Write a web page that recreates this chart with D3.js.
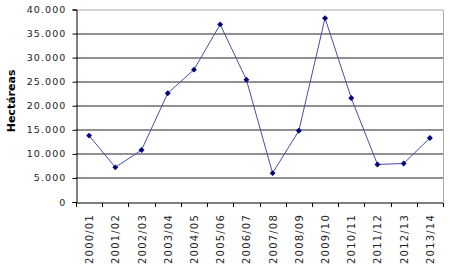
<!DOCTYPE html>
<html>
<head>
<meta charset="utf-8">
<script src="https://cdn.jsdelivr.net/npm/d3@7"></script>
<style>
  body { margin: 0; background: #fff; }
  text { font-family: "DejaVu Sans", Verdana, sans-serif; fill: #000; }
</style>
</head>
<body>
<div id="chart"></div>
<script>
(function() {
    // Data
    var seasons = ["2000/01", "2001/02", "2002/03", "2003/04", "2004/05", "2005/06", "2006/07",
                   "2007/08", "2008/09", "2009/10", "2010/11", "2011/12", "2012/13", "2013/14"];
    var hectares = [13800, 7200, 10800, 22600, 27500, 36900, 25400,
                    6000, 14800, 38200, 21600, 7800, 8000, 13300];
    var yTicks = [0, 5000, 10000, 15000, 20000, 25000, 30000, 35000, 40000];
    var yTitle = "Hectáreas";

    var W = 450, H = 269;
    var margin = { top: 9.5, left: 76, right: 7, bottom: 67 };
    var width = W - margin.left - margin.right,
        height = H - margin.top - margin.bottom;

    var svg = d3.select("#chart")
        .append("svg")
        .attr("width", W)
        .attr("height", H)
        .append("g")
        .attr("transform", "translate(" + margin.left + "," + margin.top + ")");

    var x = d3.scaleBand().domain(seasons).range([0, width]).padding(0);
    var y = d3.scaleLinear().domain([0, 40000]).range([height, 0]);

    var fmt = function(v) { return d3.format(",")(v).replace(/,/g, "."); };

    // Gridlines
    svg.selectAll(".grid")
        .data(yTicks.filter(function(d) { return d > 0; }))
        .enter().append("line")
        .attr("class", "grid")
        .attr("x1", 0).attr("x2", width)
        .attr("y1", function(d) { return Math.round(y(d)) + 0.5; })
        .attr("y2", function(d) { return Math.round(y(d)) + 0.5; })
        .attr("stroke", function(d) { return d === 40000 ? "#aaa" : "#222"; })
        .attr("stroke-width", 1);

    // Right border of plot area
    svg.append("line")
        .attr("x1", Math.round(width) + 0.5).attr("x2", Math.round(width) + 0.5)
        .attr("y1", Math.round(y(40000)) + 0.5).attr("y2", Math.round(y(0)) + 0.5)
        .attr("stroke", "#aaa");

    // Y axis
    var yAxis = d3.axisLeft(y).tickValues(yTicks).tickSize(4).tickFormat(fmt);
    var ya = svg.append("g").attr("transform", "translate(0.5,0)").call(yAxis);
    ya.select(".domain").attr("stroke", "#000");
    ya.selectAll(".tick line").attr("stroke", "#000");
    ya.selectAll(".tick text")
        .attr("x", -10)
        .style("font-size", "9.5px")
        .style("letter-spacing", "1.1px")
        .style("fill", "#222");
    ya.attr("font-family", null);

    // X axis with ticks at category boundaries
    var xa = svg.append("g").attr("transform", "translate(0," + (Math.round(height) + 0.5) + ")");
    xa.append("line")
        .attr("x1", 0).attr("x2", width)
        .attr("stroke", "#000");
    xa.selectAll(".xtick")
        .data(seasons.concat(["end"]))
        .enter().append("line")
        .attr("class", "xtick")
        .attr("x1", function(d, i) { return Math.round(i * x.step()) + 0.5; })
        .attr("x2", function(d, i) { return Math.round(i * x.step()) + 0.5; })
        .attr("y1", 0).attr("y2", 4)
        .attr("stroke", "#000");
    xa.selectAll(".xlabel")
        .data(seasons)
        .enter().append("text")
        .attr("class", "xlabel")
        .attr("transform", function(d) {
            return "translate(" + (x(d) + x.bandwidth() / 2 + 4) + ",11) rotate(-90)";
        })
        .attr("text-anchor", "end")
        .style("font-size", "10px")
        .style("letter-spacing", "1.2px")
        .style("fill", "#222")
        .text(function(d) { return d; });

    // Y title
    svg.append("text")
        .attr("transform", "translate(" + (-61) + "," + (y(21000)) + ") rotate(-90)")
        .attr("text-anchor", "middle")
        .style("font-size", "11px")
        .style("font-weight", "bold")
        .text(yTitle);

    // Line
    var line = d3.line()
        .x(function(d, i) { return x(seasons[i]) + x.bandwidth() / 2; })
        .y(function(d) { return y(d); });

    svg.append("path")
        .datum(hectares)
        .attr("d", line)
        .attr("fill", "none")
        .attr("stroke", "#4a4aa8")
        .attr("stroke-width", 1);

    // Diamond markers
    var diamond = d3.symbol().type(d3.symbolDiamond2).size(22);
    svg.selectAll(".pt")
        .data(hectares)
        .enter().append("path")
        .attr("class", "pt")
        .attr("d", diamond)
        .attr("transform", function(d, i) {
            return "translate(" + (x(seasons[i]) + x.bandwidth() / 2) + "," + y(d) + ")";
        })
        .attr("fill", "#000080");
})();
</script>
</body>
</html>
